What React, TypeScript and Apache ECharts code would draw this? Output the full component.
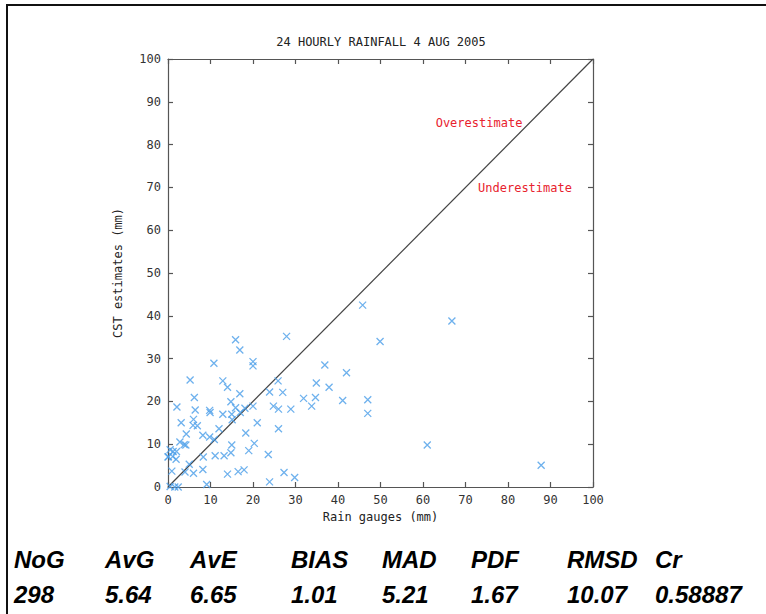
import React, { useEffect, useRef } from "react";
import * as echarts from "echarts";

const titleText = "24 HOURLY RAINFALL 4 AUG 2005";
const xAxisName = "Rain gauges (mm)";
const yAxisName = "CST estimates (mm)";

// Rain gauge values (x) and CST estimates (y)
const gauge = [
  15.9, 27.9, 16.9, 10.8, 20.0, 20.0, 36.9, 5.2, 12.9, 25.9,
  14.0, 34.9, 37.9, 16.9, 23.9, 27.0, 6.2, 31.9, 34.7, 14.8,
  2.1, 9.8, 9.9, 6.4, 15.9, 12.9, 15.0, 17.0, 18.1, 20.0,
  24.8, 26.0, 28.9, 33.8, 6.0, 15.1, 3.1, 5.9, 6.9, 21.0,
  12.0, 26.0, 4.3, 8.2, 9.8, 10.9, 18.3, 2.8, 3.8, 4.2,
  15.0, 20.3, 0.5, 1.2, 2.0, 1.9, 0.0, 0.1, 1.1, 8.3,
  11.1, 13.2, 14.8, 19.0, 23.6, 5.0, 0.9, 4.0, 6.0, 8.2,
  14.0, 16.5, 17.9, 27.3, 29.8, 23.9, 9.1, 0.5, 1.6, 2.4,
  45.8, 66.8, 49.9, 42.0, 41.1, 47.0, 47.0, 61.0, 87.8,
];
const cst = [
  34.4, 35.2, 32.0, 28.9, 29.3, 28.3, 28.5, 25.0, 24.8, 24.8,
  23.3, 24.3, 23.3, 21.8, 22.2, 22.1, 20.9, 20.7, 20.9, 19.9,
  18.7, 17.9, 17.4, 18.0, 18.5, 17.0, 17.0, 17.4, 18.4, 18.9,
  18.9, 18.2, 18.2, 18.9, 15.8, 15.7, 15.0, 14.4, 14.3, 15.0,
  13.6, 13.6, 12.4, 12.1, 11.7, 11.1, 12.6, 10.5, 9.9, 9.8,
  9.8, 10.2, 8.7, 8.3, 8.3, 6.5, 7.0, 7.1, 7.1, 7.0,
  7.3, 7.3, 8.0, 8.5, 7.6, 5.3, 3.7, 3.5, 3.2, 4.1,
  3.0, 3.6, 4.0, 3.4, 2.2, 1.2, 0.6, 0.1, 0.0, 0.0,
  42.5, 38.8, 34.0, 26.7, 20.2, 20.4, 17.2, 9.8, 5.1,
];

const statNames = ["NoG", "AvG", "AvE", "BIAS", "MAD", "PDF", "RMSD", "Cr"];
const statValues = ["298", "5.64", "6.65", "1.01", "5.21", "1.67", "10.07", "0.58887"];
const statX = [14, 105, 190, 291, 382, 471, 567, 655];

const MONO = "'DejaVu Sans Mono', monospace";
const STAT_FONT = "'Liberation Sans', Arial, sans-serif";

export default function App() {
  const ref = useRef<HTMLDivElement>(null);

  useEffect(() => {
    if (!ref.current) return;
    const chart = echarts.init(ref.current, null, { renderer: "svg" });
    const points = gauge.map((g, i) => [g, cst[i]]);
    const axisLineStyle = { color: "#555", width: 1.2 };
    const labelStyle = { fontFamily: MONO, fontSize: 12, color: "#333" };

    const graphics: any[] = [
      {
        type: "rect",
        shape: { x: 7, y: 5, width: 780, height: 700 },
        style: { fill: "none", stroke: "#111", lineWidth: 2 },
        silent: true,
      },
      {
        type: "text",
        x: 381,
        y: 42,
        style: {
          text: titleText,
          font: `12px ${MONO}`,
          fill: "#222",
          textAlign: "center",
          textVerticalAlign: "middle",
        },
      },
      {
        type: "text",
        x: 479,
        y: 123,
        style: {
          text: "Overestimate",
          font: `12px ${MONO}`,
          fill: "#e8222e",
          textAlign: "center",
          textVerticalAlign: "middle",
        },
      },
      {
        type: "text",
        x: 525,
        y: 188,
        style: {
          text: "Underestimate",
          font: `12px ${MONO}`,
          fill: "#e8222e",
          textAlign: "center",
          textVerticalAlign: "middle",
        },
      },
    ];
    statNames.forEach((n, i) => {
      graphics.push({
        type: "text",
        x: statX[i],
        y: 571,
        style: {
          text: n,
          font: `italic bold 24px ${STAT_FONT}`,
          fill: "#000",
          textAlign: "left",
          textVerticalAlign: "bottom",
        },
      });
      graphics.push({
        type: "text",
        x: statX[i],
        y: 606,
        style: {
          text: statValues[i],
          font: `italic bold 24px ${STAT_FONT}`,
          fill: "#000",
          textAlign: "left",
          textVerticalAlign: "bottom",
        },
      });
    });

    const common = {
      type: "value",
      min: 0,
      max: 100,
      interval: 10,
      axisLine: { show: true, onZero: false, lineStyle: axisLineStyle },
      axisTick: { show: true, inside: true, length: 5, lineStyle: axisLineStyle },
      splitLine: { show: false },
    };

    chart.setOption({
      animation: false,
      backgroundColor: "#fff",
      grid: { left: 168, top: 59, right: 173, bottom: 127, containLabel: false },
      xAxis: [
        {
          ...common,
          position: "bottom",
          name: xAxisName,
          nameLocation: "middle",
          nameGap: 23,
          nameTextStyle: { ...labelStyle, color: "#222" },
          axisLabel: { ...labelStyle, margin: 7 },
        },
        {
          ...common,
          position: "top",
          axisLabel: { show: false },
        },
      ],
      yAxis: [
        {
          ...common,
          position: "left",
          name: yAxisName,
          nameLocation: "middle",
          nameGap: 44,
          nameRotate: 90,
          nameTextStyle: { ...labelStyle, color: "#222" },
          axisLabel: { ...labelStyle, margin: 7 },
        },
        {
          ...common,
          position: "right",
          axisLabel: { show: false },
        },
      ],
      series: [
        {
          type: "line",
          data: [
            [0, 0],
            [100, 100],
          ],
          symbol: "none",
          lineStyle: { color: "#444", width: 1.2 },
          silent: true,
          z: 1,
        },
        {
          type: "scatter",
          data: points,
          symbol: "path://M0,0L10,10M10,0L0,10",
          symbolSize: 7,
          itemStyle: { color: "none", borderColor: "#4a9ee8", borderWidth: 1.3 },
          z: 3,
        },
      ],
      graphic: graphics,
    });
    return () => chart.dispose();
  }, []);

  return (
    <div
      ref={ref}
      style={{ position: "fixed", left: 0, top: 0, width: 766, height: 614, background: "#fff" }}
    />
  );
}
